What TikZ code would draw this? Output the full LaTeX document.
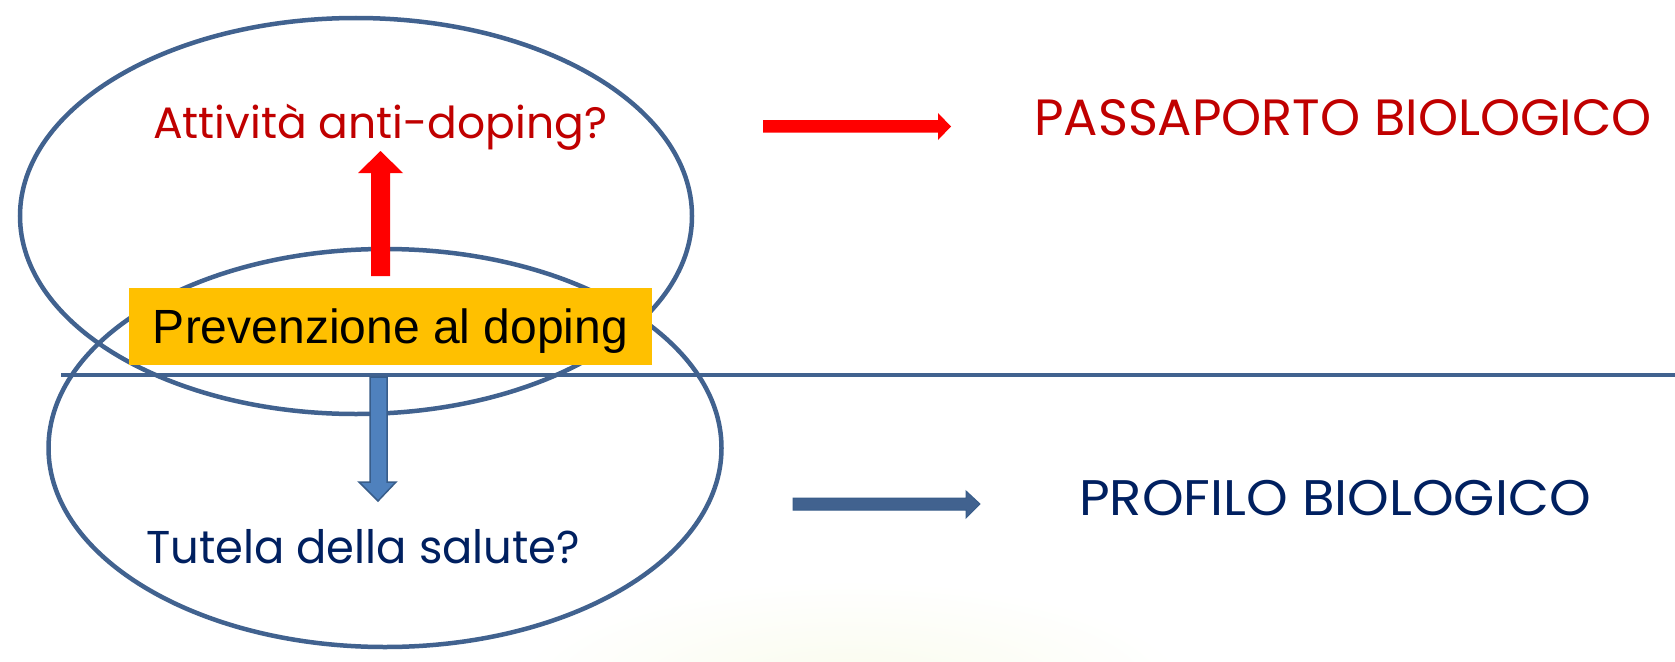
\documentclass[tikz,border=0pt]{standalone}
\usepackage{fontspec}
\setmainfont{Liberation Sans}
\newfontfamily\comicfont{Poppins}
\usetikzlibrary{shapes.geometric}
\definecolor{ellblue}{HTML}{41628F}
\definecolor{arrblue}{HTML}{4F81BD}
\definecolor{arrblueline}{HTML}{385D8A}
\definecolor{darkred}{HTML}{C00000}
\definecolor{navy}{HTML}{002060}
\definecolor{gold}{HTML}{FFC000}
\definecolor{glow}{HTML}{F9FBEC}
\tikzset{
  oval/.style={draw=ellblue, line width=4.5pt, ellipse, inner sep=0pt},
  redarrow/.style={fill=red, draw=none},
  bluearrow/.style={fill=arrblue, draw=arrblueline, line width=1.5pt},
  label/.style={anchor=base west, inner sep=0pt, font=\comicfont},
  goldbox/.style={fill=gold, draw=none, minimum width=523pt, minimum height=77pt, inner sep=0pt, text depth=0pt, text height=34pt, font=\fontsize{48}{50}\selectfont}
}
\begin{document}
\begin{tikzpicture}[x=1pt,y=-1pt]
\useasboundingbox (0,0) rectangle (1675,661);
\fill[white] (0,0) rectangle (1675,661);
\begin{scope}
\clip (0,0) rectangle (1675,661);
\shade[inner color=glow, outer color=white] (850,690) ellipse [x radius=340, y radius=110];
\end{scope}
% ellipses
\node[oval, minimum width=672pt, minimum height=396pt] (top) at (356,216) {};
\node[oval, minimum width=673pt, minimum height=398pt] (bottom) at (385,448) {};
% horizontal line
\coordinate (hl) at (61,375);
\coordinate (hr) at (1675,375);
\draw[ellblue, line width=3.5pt] (hl) -- (hr);
% red up arrow
\path[redarrow] (371,276) -- (390,276) -- (390,173) -- (403,173) -- (380.5,151) -- (358,173) -- (371,173) -- cycle;
% blue down arrow
\path[bluearrow] (370,377) -- (387,377) -- (387,482) -- (396,482) -- (378,501) -- (359,482) -- (370,482) -- cycle;
% gold box
\node[goldbox] (prev) at (390.5,326.5) {Prevenzione al doping};
% texts
\node[label, text=darkred, font=\comicfont\fontsize{44}{48}\selectfont] (anti) at (153,138) {Attività anti-doping?};
\node[label, text=navy, font=\comicfont\fontsize{46}{50}\selectfont] (tutela) at (146,563) {\scalebox{0.975}[1]{Tutela della salute?}};
\node[label, text=darkred, font=\comicfont\fontsize{51}{55}\selectfont] (pass) at (1034,135) {PASSAPORTO BIOLOGICO};
\node[label, text=navy, font=\comicfont\fontsize{50}{54}\selectfont] (prof) at (1079,515) {\scalebox{1.06}[1]{PROFILO BIOLOGICO}};
% right arrows
\path[redarrow] (763,120) -- (938,120) -- (938,113) -- (951,126.5) -- (938,140) -- (938,132.5) -- (763,132.5) -- cycle;
\path[bluearrow, fill=ellblue, line width=1pt] (793,498) -- (966,498) -- (966,491) -- (980,504) -- (966,518) -- (966,510) -- (793,510) -- cycle;
\end{tikzpicture}
\end{document}
